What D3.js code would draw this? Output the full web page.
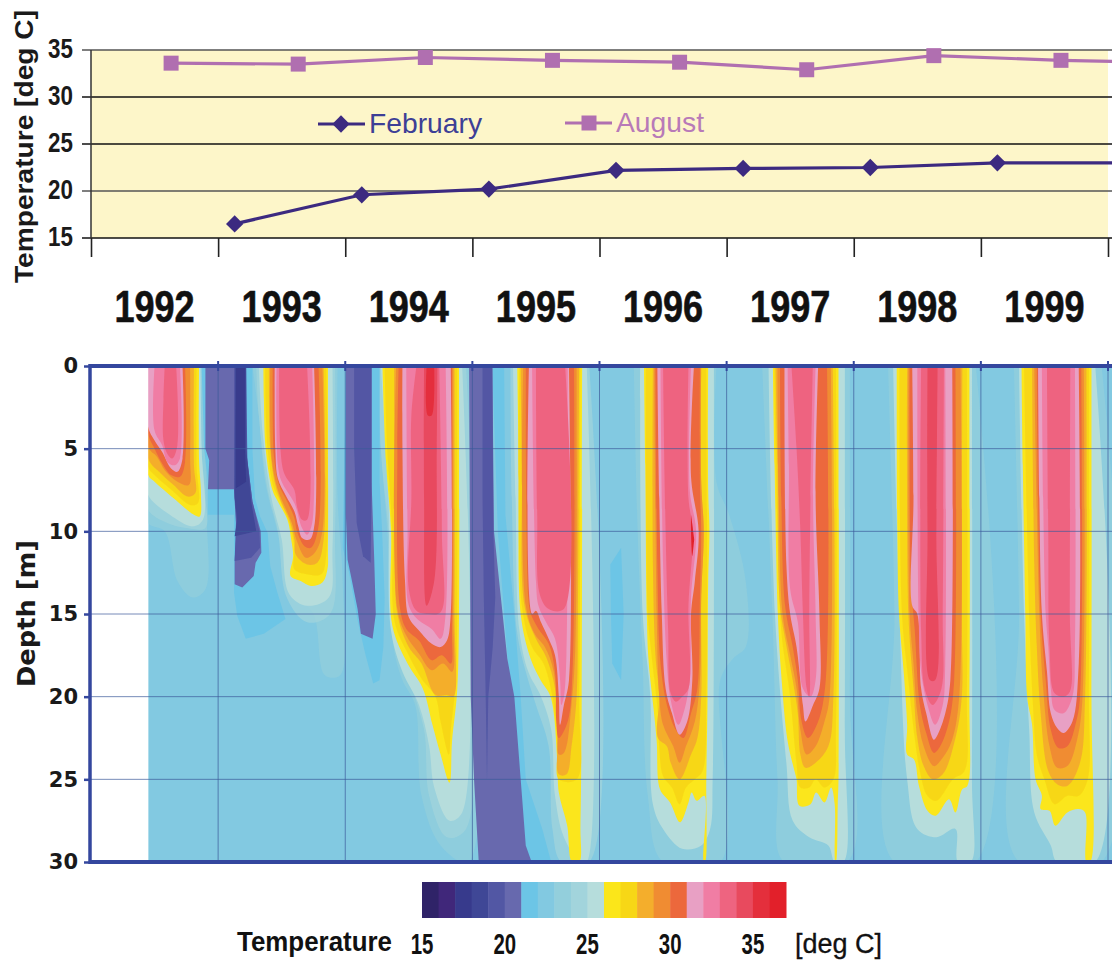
<!DOCTYPE html>
<html>
<head>
<meta charset="utf-8">
<style>
  html, body { margin: 0; padding: 0; background: #fff; }
  text { font-family: "Liberation Sans", Arial, sans-serif; }
  text.verdana { font-family: "DejaVu Sans", sans-serif; font-weight: bold; }
</style>
<script src="https://cdnjs.cloudflare.com/ajax/libs/d3/7.8.5/d3.min.js"></script>
</head>
<body>
<svg id="chart" width="1112" height="962"></svg>
<script>
// top panel: surface temperature
var febYears = [1993.13, 1994.13, 1995.13, 1996.13, 1997.13, 1998.13, 1999.13, 2000.13];
var febTemps = [16.5, 19.6, 20.2, 22.2, 22.4, 22.5, 23.0, 23.0];
var augYears = [1992.63, 1993.63, 1994.63, 1995.63, 1996.63, 1997.63, 1998.63, 1999.63, 2000.63];
var augTemps = [33.6, 33.5, 34.2, 33.9, 33.7, 32.9, 34.4, 33.9, 33.6];
var tempTicks = [15, 20, 25, 30, 35];
var yearLabels = [1992, 1993, 1994, 1995, 1996, 1997, 1998, 1999];
var yearTicks = [1992, 1993, 1994, 1995, 1996, 1997, 1998, 1999, 2000];
var depthTicks = [0, 5, 10, 15, 20, 25, 30];
var legendTicks = [15, 20, 25, 30, 35];

// colour classes, one per degree from 15 up
var classColors = ["#2f2368", "#40277a", "#373a8c", "#3f4796", "#5257a4", "#6769ae",
    "#6cc5e6", "#82c9e1", "#93cfdc", "#a2d4dc", "#b6dddc",
    "#fbe61a", "#f7d716", "#f4ae2c", "#f08c32", "#ec683c",
    "#e8a0c4", "#f07da4", "#ee6480", "#e84a5e", "#e42f3c", "#e2202a"];
var firstRecord = 1992.45;
var bodyTemp = 22;

// isotherm rings, [temperature, [[fraction of the year, depth], ...]]
// a ring starts with its two points on the surface
var haze1992 = [
    [23, [[.85,0],[.88,0],[.9,5],[.91,9],[.9,13.5],[.8,14],[.68,13],[.58,10],[.45,9.5],[.45,6.6]]],
    [24, [[.85,0],[.87,0],[.87,5],[.9,8],[.9,9.8],[.75,9.8],[.6,9.5],[.45,8.7],[.45,6.6]]],
    [25, [[.85,0],[.86,0],[.87,5],[.88,9.3],[.8,9.7],[.62,9],[.45,7.8],[.45,6.6]]]
];
var haze1993 = [
    [23, [[.27,0],[.94,0],[.94,8],[.98,13],[.96,18.7],[.84,18.7],[.75,15],[.6,13.7],[.45,9.5],[.37,7],[.32,3]]],
    [24, [[.3,0],[.92,0],[.92,10],[.88,15],[.7,15.5],[.54,14],[.47,10],[.39,7.5],[.32,3]]],
    [25, [[.32,0],[.9,0],[.9,11],[.87,14],[.7,14.5],[.56,13.8],[.5,10.5],[.42,8],[.35,4]]]
];
var haze1994 = [
    [23, [[.25,0],[.97,0],[.97,30],[.75,29],[.6,26],[.55,20.5],[.45,19],[.38,17],[.33,10],[.28,5]]],
    [24, [[.27,0],[.95,0],[.95,28],[.8,28.5],[.66,26],[.62,22],[.5,19],[.4,17],[.34,10],[.28,5]]],
    [25, [[.28,0],[.92,0],[.92,27],[.82,27.5],[.7,25.5],[.66,23],[.58,20.5],[.45,18.5],[.36,16],[.34,8]]]
];
var haze1995 = [
    [24, [[.3,0],[.92,0],[.92,30],[.7,30],[.63,28],[.6,23],[.5,20.5],[.42,18.5],[.35,16],[.31,8]]],
    [25, [[.32,0],[.9,0],[.9,30],[.85,30],[.72,28.5],[.65,26],[.62,22],[.54,20],[.44,18.5],[.37,16],[.34,8]]]
];
var haze1996 = [
    [23, [[.27,0],[.92,0],[.92,7],[1.02,9],[1.15,13],[1.15,17],[1.05,17.7],[.95,19],[.95,30],[.5,30],[.38,26],[.34,18],[.3,10]]],
    [25, [[.32,0],[.9,0],[.9,15],[.89,25],[.87,28],[.8,29],[.65,29.2],[.5,28],[.42,26.5],[.4,20],[.34,15]]]
];
var haze1997 = [
    [23, [[.28,0],[.97,0],[.97,20],[.95,30],[.45,30],[.4,25],[.36,15]]],
    [25, [[.33,0],[.93,0],[.93,22],[.92,30],[.85,30],[.8,29],[.65,28.5],[.52,27.5],[.47,24],[.38,15]]]
];
var haze1998 = [
    [23, [[.27,0],[.96,0],[.96,30],[.32,30],[.32,15]]],
    [25, [[.31,0],[.93,0],[.93,25],[.92,30],[.82,30],[.8,28],[.65,28.5],[.5,28],[.42,25],[.36,15]]]
];
var haze1999 = [
    [23, [[.26,0],[.95,0],[.95,30],[.3,30],[.3,15]]],
    [25, [[.3,0],[.9,0],[.9,30],[.6,30],[.55,29],[.42,27],[.38,22],[.34,15]]]
];

var blue1993 = [
    [21, [[-.13,0],[.27,0],[.27,5],[.29,8],[.33,9.1],[.39,10.1],[.41,12.1],[.466,13.7],[.53,15.3],[.36,16.2],[.217,16.5],[.15,15.1],[.125,13.7],[.125,9],[-.08,9],[-.08,7],[-.11,5]]]
];
var blue1994 = [
    [21, [[.005,0],[.27,0],[.27,7],[.29,10],[.31,14],[.3,17],[.27,19],[.22,19.2],[.16,17.5],[.1,15.5],[.03,12.5],[-.02,11]]]
];
var blue1995 = [
    [21, [[.157,0],[.25,0],[.26,9],[.33,15],[.38,20],[.42,25],[.55,28],[.62,30],[.4,30],[.2,10]]]
];
var blue1996 = [
    [21, [[.085,12],[.17,11],[.19,15],[.17,19],[.1,18],[.09,15]]]
];

var summer1992 = [
    [26, [[.45,0],[.85,0],[.85,5.7],[.865,7.7],[.855,9.1],[.81,9],[.65,8],[.5,7],[.45,6.6]]],
    [27, [[.45,0],[.83,0],[.83,6],[.84,8.3],[.78,8.4],[.65,7.6],[.5,6.6],[.45,6.1]]],
    [28, [[.45,0],[.81,0],[.81,6],[.82,7.7],[.76,7.9],[.65,7.2],[.55,6.5],[.45,5.6]]],
    [29, [[.45,0],[.78,0],[.78,5.5],[.77,7.2],[.68,7],[.58,6.3],[.52,5.5],[.45,4.9]]],
    [30, [[.45,0],[.74,0],[.74,5.8],[.7,6.7],[.63,6.6],[.56,5.9],[.5,5],[.45,4.1]]],
    [31, [[.45,0],[.72,0],[.72,5.6],[.68,6.4],[.63,6.2],[.56,5.2],[.5,4.5],[.45,3.7]]],
    [32, [[.5,0],[.7,0],[.7,5.6],[.66,6],[.6,5.8],[.56,4.8],[.5,3.9]]],
    [33, [[.58,0],[.67,0],[.68,4.8],[.64,5.6],[.6,5.3],[.57,4.5],[.57,2]]]
];
var summer1993 = [
    [26, [[.356,0],[.864,0],[.864,11],[.86,12.3],[.82,13.1],[.73,13.3],[.65,13],[.57,12.7],[.59,11.5],[.575,10.5],[.545,9.3],[.47,8.2],[.427,7.5],[.374,5],[.36,2]]],
    [27, [[.37,0],[.85,0],[.85,11.5],[.81,12.6],[.7,12.6],[.6,12.3],[.6,11],[.56,9.5],[.49,8.2],[.44,7.4],[.39,5]]],
    [28, [[.4,0],[.83,0],[.83,10.5],[.78,11.9],[.7,12],[.61,11.4],[.6,10.5],[.56,9.3],[.5,8.3],[.45,7.2],[.41,5]]],
    [29, [[.41,0],[.82,0],[.82,10],[.76,11.3],[.69,11.6],[.62,10.6],[.58,9.5],[.53,8.6],[.47,7.5],[.42,5.5]]],
    [30, [[.43,0],[.79,0],[.79,9.7],[.73,11],[.68,10.9],[.62,10],[.6,9.2],[.55,8.3],[.48,7.2],[.44,5.5]]],
    [31, [[.445,0],[.755,0],[.76,9.5],[.72,10.5],[.66,10.4],[.63,9.7],[.6,8.8],[.53,7.8],[.47,6.8],[.45,5]]],
    [32, [[.46,0],[.74,0],[.74,9.5],[.7,10.2],[.66,9.8],[.6,8.3],[.5,7],[.47,6]]],
    [33, [[.48,0],[.7,0],[.7,9.3],[.66,9.3],[.62,8.5],[.6,7.5],[.52,6.5],[.49,5]]]
];
var summer1994 = [
    [26, [[.293,0],[.895,0],[.895,15],[.88,19.7],[.84,22.7],[.82,25.2],[.75,23.5],[.686,21.7],[.61,19.5],[.49,18],[.37,15.7],[.36,10],[.32,5.7]]],
    [27, [[.31,0],[.88,0],[.88,15],[.87,19],[.83,22],[.815,23.5],[.75,21.5],[.71,20],[.6,18.9],[.5,17.5],[.39,15.5],[.37,10],[.33,5]]],
    [28, [[.385,0],[.86,0],[.86,15],[.85,20],[.8,19.9],[.71,19.9],[.6,18],[.5,17],[.41,15],[.39,10],[.385,5]]],
    [29, [[.4,0],[.85,0],[.85,15],[.84,18.5],[.77,18],[.68,18.4],[.58,17.4],[.48,16.3],[.41,14.7]]],
    [30, [[.42,0],[.84,0],[.84,16],[.83,18],[.76,17.5],[.68,17.8],[.58,16.6],[.48,15.9],[.43,14.6],[.41,5]]],
    [31, [[.45,0],[.83,0],[.83,15],[.8,16.6],[.75,17],[.68,16.8],[.58,16],[.5,15.2],[.47,13],[.45,5]]],
    [32, [[.48,0],[.79,0],[.79,15],[.75,16.5],[.68,15.9],[.58,15.4],[.5,14.5],[.49,10]]],
    [33, [[.56,0],[.74,0],[.76,10],[.75,14.9],[.65,15],[.56,14.8],[.5,13.5],[.52,8],[.52,3]]],
    [34, [[.62,0],[.725,0],[.72,5],[.7,13],[.64,14.5],[.62,8]]],
    [35, [[.64,0],[.7,0],[.68,3],[.65,3]]]
];
var summer1995 = [
    [26, [[.353,0],[.864,0],[.86,20],[.85,27.8],[.84,30],[.785,30],[.746,27.8],[.68,25.8],[.668,23.8],[.615,20],[.537,19],[.458,17.7],[.38,15],[.366,6]]],
    [27, [[.37,0],[.85,0],[.84,20],[.82,25],[.68,25],[.67,23],[.63,20],[.56,18],[.47,17],[.39,14.5]]],
    [28, [[.38,0],[.84,0],[.83,15],[.82,20],[.78,23],[.74,24.7],[.68,24.7],[.67,22.5],[.65,19.5],[.58,17.6],[.5,16.5],[.41,14.5],[.39,6]]],
    [29, [[.4,0],[.82,0],[.81,17],[.78,20.5],[.72,23.4],[.68,23.5],[.67,22],[.64,18.5],[.57,17],[.49,16.2],[.42,14.5]]],
    [30, [[.42,0],[.8,0],[.79,18],[.75,21.5],[.68,22.5],[.66,21.5],[.65,18.5],[.6,16.8],[.52,15.9],[.46,15],[.44,14]]],
    [31, [[.445,0],[.76,0],[.76,19],[.72,20.5],[.69,21.7],[.68,20],[.65,17.5],[.6,16.5],[.54,15.5],[.5,14.8],[.47,15]]],
    [32, [[.47,0],[.75,0],[.74,17.5],[.72,20],[.7,20.5],[.69,19],[.65,16.5],[.58,15.5],[.52,14.5],[.5,13]]],
    [33, [[.5,0],[.73,0],[.72,14.7],[.6,14.7],[.53,13.8],[.51,9]]]
];
var summer1996 = [
    [26, [[.35,0],[.855,0],[.855,7.5],[.865,10],[.855,13],[.85,20],[.84,25],[.83,30],[.82,30],[.825,26],[.764,26.3],[.725,25.8],[.7,26.4],[.633,27.6],[.555,26.4],[.476,25.6],[.45,22.7],[.425,20.7],[.385,17.7],[.372,15],[.36,6]]],
    [27, [[.365,0],[.84,0],[.84,20],[.81,24.5],[.75,25],[.68,25.5],[.63,26.5],[.57,25.5],[.5,24.8],[.47,23],[.46,21],[.41,17.5],[.38,15]]],
    [28, [[.42,0],[.8,0],[.8,7],[.82,10],[.8,14],[.8,20],[.77,22.5],[.72,23.5],[.63,25],[.56,24],[.53,23],[.46,22.5],[.47,20],[.44,17.5],[.42,12]]],
    [29, [[.43,0],[.8,0],[.8,7],[.82,10],[.8,14],[.79,19],[.75,21.5],[.68,23],[.63,24],[.58,23],[.5,21.7],[.47,20],[.45,15]]],
    [30, [[.44,0],[.79,0],[.79,7],[.8,10],[.79,14],[.77,19.5],[.72,21],[.66,22.5],[.6,22],[.53,20.5],[.48,18],[.455,12]]],
    [31, [[.455,0],[.743,0],[.72,6.7],[.78,10],[.75,13],[.72,15],[.73,19],[.69,21.5],[.63,22.3],[.57,21],[.52,19.5],[.49,15],[.47,8]]],
    [32, [[.48,0],[.72,0],[.71,7.5],[.76,10],[.72,14],[.71,19],[.66,21],[.62,21.7],[.56,20.2],[.53,18],[.5,12]]],
    [33, [[.5,0],[.7,0],[.7,8],[.735,10],[.7,14.5],[.7,19.5],[.65,20],[.6,20.3],[.56,19.8],[.54,16],[.52,10]]],
    [36, [[.72,9],[.745,10.5],[.73,11.5],[.72,10]]]
];
var summer1997 = [
    [26, [[.364,0],[.88,0],[.88,25],[.874,26.5],[.86,30],[.855,30],[.85,26.5],[.822,25.5],[.77,26.4],[.704,25.8],[.66,26.5],[.573,26.6],[.55,25],[.534,24.5],[.48,22.7],[.43,18.7],[.403,15],[.377,6]]],
    [27, [[.375,0],[.86,0],[.86,22],[.84,25],[.77,25.5],[.7,25],[.65,25.5],[.58,25.5],[.55,24],[.5,20],[.43,16],[.4,10]]],
    [28, [[.385,0],[.835,0],[.84,20],[.8,23],[.7,24],[.62,24.3],[.58,23.5],[.56,21],[.52,19],[.46,16.5],[.42,14.5],[.4,6]]],
    [29, [[.4,0],[.82,0],[.81,20],[.77,21.5],[.7,23],[.63,23.5],[.58,22],[.55,19.5],[.5,17.5],[.44,15],[.41,8]]],
    [30, [[.42,0],[.79,0],[.78,19],[.72,21.5],[.64,22.5],[.59,21.5],[.56,19],[.52,17],[.46,14.5],[.43,8]]],
    [31, [[.455,0],[.72,0],[.7,8],[.73,15],[.73,19.5],[.68,20.5],[.62,21.5],[.6,20.5],[.55,17],[.5,15],[.47,12]]],
    [32, [[.48,0],[.7,0],[.68,8],[.7,15],[.7,19],[.66,20],[.6,19.5],[.56,15.5],[.5,13.5],[.49,6]]],
    [33, [[.51,0],[.678,0],[.66,8],[.65,15],[.65,20],[.63,19.5],[.6,15],[.58,10],[.55,5]]]
];
var summer1998 = [
    [26, [[.338,0],[.91,0],[.91,20],[.893,25.4],[.853,25.6],[.8,27],[.75,26.2],[.644,27.2],[.58,26.9],[.513,25.4],[.474,23.8],[.42,23.5],[.42,21.7],[.395,18.7],[.356,15],[.343,10]]],
    [27, [[.36,0],[.89,0],[.89,20],[.87,24.5],[.78,25],[.65,26.3],[.58,26],[.52,24.5],[.48,22.5],[.43,19],[.38,15]]],
    [28, [[.42,0],[.855,0],[.85,15],[.85,20],[.8,22.5],[.7,24.7],[.62,25],[.55,24.2],[.5,22.5],[.47,19.5],[.43,15]]],
    [29, [[.43,0],[.84,0],[.83,20],[.77,22.7],[.7,23.7],[.63,24.2],[.55,23],[.5,21],[.47,18],[.44,15]]],
    [30, [[.44,0],[.8,0],[.79,19],[.75,21.5],[.68,23],[.63,23.4],[.57,22.2],[.52,20.5],[.48,16],[.45,13]]],
    [31, [[.46,0],[.775,0],[.76,19],[.72,21],[.66,22.3],[.63,22.6],[.57,21],[.53,19.5],[.5,15],[.46,14.5],[.47,8]]],
    [32, [[.5,0],[.72,0],[.72,18],[.7,20.5],[.64,21.7],[.58,20.5],[.53,18.5],[.51,15]]],
    [33, [[.53,0],[.71,0],[.7,15],[.69,19.5],[.62,20.5],[.56,19.6],[.53,16]]],
    [34, [[.58,0],[.66,0],[.65,10],[.64,19],[.6,19],[.58,10]]]
];
var summer1999 = [
    [26, [[.32,0],[.87,0],[.87,20],[.86,30],[.83,30],[.82,27],[.77,26.8],[.68,27],[.586,27.8],[.54,26.9],[.47,26.8],[.48,26],[.43,25],[.403,21.7],[.364,20],[.35,15],[.33,6]]],
    [27, [[.34,0],[.85,0],[.85,20],[.84,25],[.77,26],[.68,26],[.58,26.5],[.5,25],[.44,23.5],[.41,20.5],[.38,15]]],
    [28, [[.403,0],[.83,0],[.82,20],[.78,24],[.68,25.4],[.6,25.3],[.53,24.5],[.47,21],[.44,17],[.42,12]]],
    [29, [[.42,0],[.81,0],[.8,20],[.76,22.5],[.68,24.2],[.6,24.3],[.54,23],[.49,19.5],[.46,15]]],
    [30, [[.44,0],[.79,0],[.78,20],[.75,21.5],[.68,23],[.61,23.1],[.55,22],[.51,19],[.47,15],[.45,8]]],
    [31, [[.45,0],[.77,0],[.77,18],[.72,21.5],[.65,22.2],[.6,21.9],[.55,21],[.52,18.5],[.48,15],[.46,8]]],
    [32, [[.48,0],[.74,0],[.74,17],[.72,20],[.65,21],[.58,20.8],[.55,19.5],[.53,17],[.51,15],[.49,8]]],
    [33, [[.52,0],[.704,0],[.7,15],[.7,19.7],[.65,20],[.58,19.8],[.54,17],[.53,10]]]
];

var winter1993 = [
    [20, [[-.1,0],[.22,0],[.22,5],[.23,5.7],[.27,8.2],[.335,10],[.34,11.3],[.295,11.9],[.28,12.7],[.19,13.4],[.13,13.2],[.13,11.7],[.15,9.5],[.125,7.45],[-.08,7.45],[-.07,5.7],[-.1,5]]],
    [19, [[.125,0],[.22,0],[.23,5.7],[.27,8.2],[.325,10],[.33,11],[.26,11.6],[.13,11.8],[.14,9.5],[.125,7.45]]],
    [18, [[.135,0],[.22,0],[.22,5],[.24,6.5],[.26,8.2],[.3,10],[.13,10.3],[.15,9.3],[.13,8]]],
    [17, [[.14,0],[.21,0],[.21,5],[.22,7],[.14,7.4]]]
];
var winter1994 = [
    [20, [[.005,0],[.207,0],[.207,7],[.228,11.7],[.24,15],[.215,16.5],[.123,16.2],[.097,14.7],[.045,12.7],[.018,11.7],[.005,9]]],
    [19, [[.07,0],[.207,0],[.207,7],[.2,11.9],[.14,11.5],[.09,9.5],[.07,5]]]
];
var winter1995 = [
    [20, [[-.026,0],[.157,0],[.17,10],[.22,13.7],[.275,17.7],[.33,20],[.38,25],[.42,29],[.466,30],[.05,30],[.013,25],[-.013,20]]],
    [19, [[.08,0],[.157,0],[.165,10],[.18,14],[.16,17],[.125,20],[.115,25],[.105,20],[.09,14],[.08,8]]]
];

// painted in this order, the later ones lie on top
var softLayers = [
    [1992, haze1992], [1993, haze1993], [1994, haze1994], [1995, haze1995],
    [1996, haze1996], [1997, haze1997], [1998, haze1998], [1999, haze1999]
];
var blueLayers = [[1993, blue1993], [1994, blue1994], [1995, blue1995], [1996, blue1996]];
var summerLayers = [
    [1992, summer1992], [1993, summer1993], [1994, summer1994], [1995, summer1995],
    [1996, summer1996], [1997, summer1997], [1998, summer1998], [1999, summer1999]
];
var winterLayers = [[1993, winter1993], [1994, winter1994], [1995, winter1995]];

var svg = d3.select("#chart");
var frameBlue = "#34479e";
var febColor = "#3c2a80";
var augColor = "#b06fb0";
var squareSymbol = d3.symbol(d3.symbolSquare, 225);
var diamondSymbol = d3.symbol(d3.symbolDiamond2, 190);

var x = d3.scaleLinear().domain([1992, 2000]).range([91, 1108]);
var yTemp = d3.scaleLinear().domain([15, 35]).range([238, 50]);
var yDepth = d3.scaleLinear().domain([0, 30]).range([366, 862]);
var legendX = d3.scaleLinear().domain([15, 37]).range([422, 786]);

function classColor(t) {
    return classColors[t - 15];
}

drawTopPanel();
drawYearLabels();
drawContourPanel();
drawColorLegend();

function drawTopPanel() {
    svg.append("clipPath").attr("id", "topClip")
        .append("rect").attr("x", 91).attr("y", 30).attr("width", 1021).attr("height", 230);

    svg.append("rect")
        .attr("x", x(1992)).attr("y", yTemp(35))
        .attr("width", x(2000) - x(1992)).attr("height", yTemp(15) - yTemp(35))
        .attr("fill", "#fdf6c9");

    svg.selectAll(".tempGrid").data(tempTicks).enter().append("line")
        .attr("class", "tempGrid")
        .attr("x1", x(1992) - 9).attr("x2", 1112)
        .attr("y1", function (d) { return yTemp(d); })
        .attr("y2", function (d) { return yTemp(d); })
        .attr("stroke", function (d) { return d == 20 || d == 35 ? "#555" : "#111"; })
        .attr("stroke-width", 1.6);

    var yAxis = d3.axisLeft(yTemp).tickValues(tempTicks).tickSize(0).tickPadding(0);
    var gy = svg.append("g").attr("transform", "translate(73,-1)").call(yAxis);
    gy.select(".domain").remove();
    gy.selectAll("text")
        .attr("font-size", 28).attr("font-weight", "bold").attr("fill", "#1a1a1a")
        .attr("transform", "scale(0.8,1)");

    svg.append("line").attr("x1", x(1992)).attr("x2", x(1992))
        .attr("y1", yTemp(35)).attr("y2", yTemp(15))
        .attr("stroke", "#333").attr("stroke-width", 1.5);

    var xAxis = d3.axisBottom(x).tickValues(yearTicks).tickSize(19).tickFormat("");
    var gx = svg.append("g").attr("transform", "translate(0," + yTemp(15) + ")").call(xAxis);
    gx.select(".domain").remove();
    gx.selectAll("line").attr("stroke", "#222").attr("stroke-width", 1.6);

    var line = d3.line().x(function (d) { return x(d[0]); }).y(function (d) { return yTemp(d[1]); });
    var plot = svg.append("g").attr("clip-path", "url(#topClip)");
    var aug = d3.zip(augYears, augTemps);
    var feb = d3.zip(febYears, febTemps);

    plot.append("path").datum(aug).attr("d", line)
        .attr("fill", "none").attr("stroke", augColor).attr("stroke-width", 3.2);
    plot.selectAll(".aug").data(aug).enter().append("path")
        .attr("class", "aug")
        .attr("d", squareSymbol)
        .attr("transform", function (d) { return "translate(" + x(d[0]) + "," + yTemp(d[1]) + ")"; })
        .attr("fill", augColor);

    plot.append("path").datum(feb).attr("d", line)
        .attr("fill", "none").attr("stroke", febColor).attr("stroke-width", 3.2);
    plot.selectAll(".feb").data(feb).enter().append("path")
        .attr("class", "feb")
        .attr("d", diamondSymbol)
        .attr("transform", function (d) { return "translate(" + x(d[0]) + "," + yTemp(d[1]) + ")"; })
        .attr("fill", febColor);

    // key inside the plot
    svg.append("line").attr("x1", 318).attr("x2", 365).attr("y1", 124).attr("y2", 124)
        .attr("stroke", febColor).attr("stroke-width", 3.2);
    svg.append("path").attr("d", diamondSymbol)
        .attr("transform", "translate(341,124)").attr("fill", febColor);
    svg.append("text").attr("x", 369).attr("y", 133).text("February")
        .attr("font-size", 28).attr("fill", "#3d3f96")
        .attr("textLength", 113).attr("lengthAdjust", "spacingAndGlyphs");

    svg.append("line").attr("x1", 565).attr("x2", 612).attr("y1", 123).attr("y2", 123)
        .attr("stroke", augColor).attr("stroke-width", 3.2);
    svg.append("path").attr("d", squareSymbol)
        .attr("transform", "translate(589,123)").attr("fill", augColor);
    svg.append("text").attr("x", 616).attr("y", 132).text("August")
        .attr("font-size", 28).attr("fill", "#b87ab8")
        .attr("textLength", 88).attr("lengthAdjust", "spacingAndGlyphs");

    svg.append("text")
        .attr("transform", "translate(33,283) rotate(-90)")
        .attr("font-size", 26.5).attr("font-weight", "bold").attr("fill", "#1a1a1a")
        .attr("textLength", 273).attr("lengthAdjust", "spacingAndGlyphs")
        .text("Temperature [deg C]");
}

function drawYearLabels() {
    svg.selectAll(".yearLabel").data(yearLabels).enter().append("text")
        .attr("class", "yearLabel")
        .attr("transform", function (d) { return "translate(" + x(d + 0.5) + ",322) scale(0.82,1)"; })
        .attr("text-anchor", "middle")
        .attr("font-size", 44).attr("font-weight", "bold").attr("fill", "#111")
        .attr("stroke", "#111").attr("stroke-width", 0.6)
        .text(function (d) { return d; });
}

function drawRings(plot, group, curve, fromSurface) {
    group.forEach(function (layer) {
        var year = layer[0];
        var ring = d3.line()
            .x(function (d) { return x(year + d[0]); })
            .y(function (d) { return yDepth(d[1]); })
            .curve(curve);
        layer[1].forEach(function (band) {
            var pts = band[1];
            // open the ring along the surface so the curve keeps straight shoulders
            if (fromSurface) pts = pts.slice(1).concat([pts[0]]);
            plot.append("path").attr("d", ring(pts))
                .attr("fill", classColor(band[0]))
                .attr("fill-opacity", band[0] == 23 || band[0] == 24 ? 0.7 : 1);
        });
    });
}

function drawContourPanel() {
    // the picture is a little soft, a small blur takes the edge off the rings
    var blur = svg.append("filter").attr("id", "soft");
    blur.append("feGaussianBlur").attr("stdDeviation", 0.7);

    svg.append("clipPath").attr("id", "depthClip")
        .append("rect")
        .attr("x", x(firstRecord)).attr("y", yDepth(0))
        .attr("width", 1112 - x(firstRecord)).attr("height", yDepth(30) - yDepth(0));

    var plot = svg.append("g").attr("clip-path", "url(#depthClip)")
        .append("g").attr("filter", "url(#soft)");
    plot.append("rect")
        .attr("x", x(firstRecord)).attr("y", yDepth(0) - 5)
        .attr("width", 1120 - x(firstRecord)).attr("height", yDepth(30) - yDepth(0) + 10)
        .attr("fill", classColor(bodyTemp));

    var smooth = d3.curveCatmullRom.alpha(0.5);
    drawRings(plot, softLayers, smooth, true);
    drawRings(plot, blueLayers, d3.curveLinearClosed, false);
    drawRings(plot, summerLayers, smooth, true);
    drawRings(plot, winterLayers, d3.curveLinearClosed, false);

    // thin grid on top of the colours
    svg.selectAll(".depthGrid").data(depthTicks.slice(1, 6)).enter().append("line")
        .attr("class", "depthGrid")
        .attr("x1", x(1992)).attr("x2", 1112)
        .attr("y1", function (d) { return yDepth(d); })
        .attr("y2", function (d) { return yDepth(d); })
        .attr("stroke", "#3c5a9a").attr("stroke-opacity", 0.7);
    svg.selectAll(".yearGrid").data(yearTicks.slice(1)).enter().append("line")
        .attr("class", "yearGrid")
        .attr("x1", function (d) { return x(d); })
        .attr("x2", function (d) { return x(d); })
        .attr("y1", yDepth(0)).attr("y2", yDepth(30))
        .attr("stroke", "#3c5a9a").attr("stroke-opacity", 0.7);

    // small nubs on the frame
    svg.selectAll(".nub").data(yearTicks.slice(1)).enter().append("line")
        .attr("class", "nub")
        .attr("x1", function (d) { return x(d); })
        .attr("x2", function (d) { return x(d); })
        .attr("y1", yDepth(0) - 5).attr("y2", yDepth(30) + 5)
        .attr("stroke-dasharray", "10," + (yDepth(30) - yDepth(0)) + ",10")
        .attr("stroke", frameBlue).attr("stroke-width", 2);

    svg.append("line").attr("x1", x(1992) - 1).attr("x2", 1112)
        .attr("y1", yDepth(0)).attr("y2", yDepth(0))
        .attr("stroke", frameBlue).attr("stroke-width", 4);
    svg.append("line").attr("x1", x(1992) - 1).attr("x2", 1112)
        .attr("y1", yDepth(30)).attr("y2", yDepth(30))
        .attr("stroke", frameBlue).attr("stroke-width", 4);
    svg.append("line").attr("x1", x(1992) - 1).attr("x2", x(1992) - 1)
        .attr("y1", yDepth(0) - 2).attr("y2", yDepth(30) + 2)
        .attr("stroke", frameBlue).attr("stroke-width", 3.5);

    var axis = d3.axisLeft(yDepth).tickValues(depthTicks).tickSize(5).tickPadding(6);
    var g = svg.append("g").attr("transform", "translate(89,0)").call(axis);
    g.select(".domain").remove();
    g.selectAll("line").attr("stroke", frameBlue).attr("stroke-width", 2.5);
    g.selectAll("text")
        .attr("class", "verdana")
        .attr("font-size", 21).attr("fill", "#1a1a1a");

    svg.append("text").attr("class", "verdana")
        .attr("transform", "translate(35,687) rotate(-90)")
        .attr("font-size", 25.5).attr("fill", "#1a1a1a")
        .attr("textLength", 147).attr("lengthAdjust", "spacingAndGlyphs")
        .text("Depth [m]");
}

function drawColorLegend() {
    svg.selectAll(".swatch").data(classColors).enter().append("rect")
        .attr("class", "swatch")
        .attr("x", function (d, i) { return legendX(15 + i); })
        .attr("y", 882)
        .attr("width", function (d, i) { return legendX(16 + i) - legendX(15 + i) + 0.5; })
        .attr("height", 36)
        .attr("fill", function (d) { return d; });

    svg.selectAll(".legendTick").data(legendTicks).enter().append("text")
        .attr("class", "legendTick")
        .attr("transform", function (d) { return "translate(" + legendX(d) + ",954) scale(0.68,1)"; })
        .attr("text-anchor", "middle")
        .attr("font-size", 30).attr("font-weight", "bold").attr("fill", "#111")
        .text(function (d) { return d; });

    svg.append("text").attr("x", 237).attr("y", 951)
        .attr("font-size", 27).attr("font-weight", "bold").attr("fill", "#111")
        .attr("textLength", 155).attr("lengthAdjust", "spacingAndGlyphs")
        .text("Temperature");
    svg.append("text").attr("x", 795).attr("y", 953)
        .attr("font-size", 27).attr("fill", "#111").attr("stroke", "#111").attr("stroke-width", 0.3)
        .attr("textLength", 87).attr("lengthAdjust", "spacingAndGlyphs")
        .text("[deg C]");
}
</script>
</body>
</html>
